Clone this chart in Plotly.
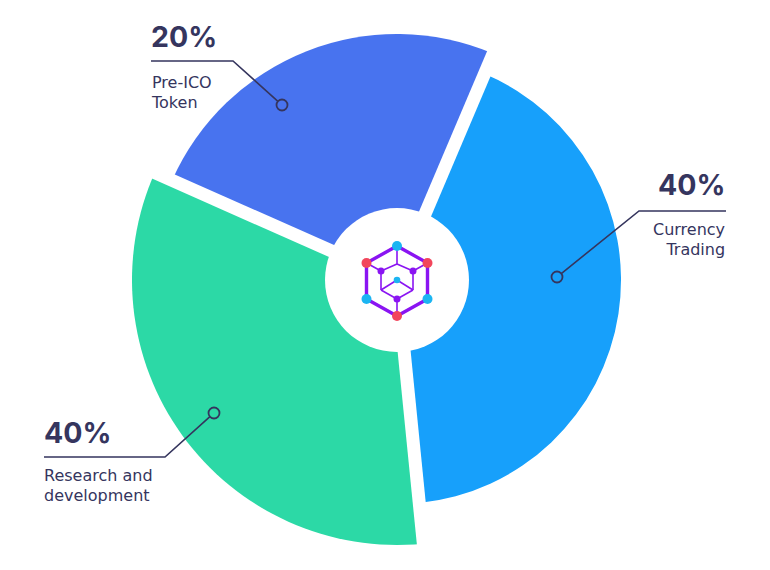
import plotly.graph_objects as go

# ---------------- data ----------------
labels = ["Pre-ICO Token", "Currency Trading", "Research and development"]
shares = [20, 40, 40]                      # percentages shown in the labels
slice_span = [89.1, 151.3, 119.6]          # angular extent of each slice (deg), as drawn
slice_reach = [246, 224, 265]              # outer radius of each slice (px), as drawn
start_angle = 293.9                        # first slice starts here (deg clockwise from top)
label_lines = [["Pre-ICO", "Token"], ["Currency", "Trading"], ["Research and", "development"]]

# ---------------- styling ----------------
W, H = 770, 570
CX, CY = 397, 280          # centre of the chart in page pixels
R_AX = 270                 # radius of the polar domain in px
HOLE = 72
GAP = 13
colors = ["#4873EF", "#17A0FB", "#2CD9A6"]
INK = "#35355E"
FONT = "Inter, Poppins, sans-serif"
BODY_FONT = "DejaVu Sans, sans-serif"

# slice centres and boundaries
centers, bounds = [], []
acc = start_angle
for s in slice_span:
    bounds.append(acc % 360)
    centers.append((acc + s / 2) % 360)
    acc += s

fig = go.Figure()

# invisible trace to create a pixel overlay axis
fig.add_trace(go.Scatter(x=[0], y=[0], mode="markers", marker=dict(opacity=0),
                         hoverinfo="skip", showlegend=False))

fig.add_trace(go.Barpolar(
    r=slice_reach,
    theta=centers,
    width=slice_span,
    marker=dict(color=colors, line=dict(width=0)),
    hoverinfo="skip",
    showlegend=False,
))

# white separators between slices
for b in bounds:
    fig.add_trace(go.Scatterpolar(
        r=[0, R_AX], theta=[b, b], mode="lines",
        line=dict(color="white", width=GAP),
        hoverinfo="skip", showlegend=False,
    ))

shapes = []
# central white hole
shapes.append(dict(type="circle", xref="x", yref="y", x0=CX - HOLE, x1=CX + HOLE,
                   y0=CY - HOLE, y1=CY + HOLE, fillcolor="white",
                   line=dict(width=0), layer="above"))

# ---------------- logo ----------------
LX, LY = 397, 281
PURPLE = "#8A14F2"
RED = "#F2465C"
CYAN = "#1BB5F2"
hexv = [(0, -35), (30.5, -18), (30.5, 18), (0, 35), (-30.5, 18), (-30.5, -18)]
inner_lines = [
    ((0, -35), (0, -17)),
    ((0, -17), (-16, -10)), ((0, -17), (16, -10)),
    ((-30.5, -18), (-16, -10)), ((30.5, -18), (16, -10)),
    ((-16, -10), (-16, 9)), ((16, -10), (16, 9)),
    ((0, -1), (-16, 9)), ((0, -1), (16, 9)),
    ((-16, 9), (0, 18)), ((16, 9), (0, 18)),
    ((0, 18), (0, 35)),
]
for (a, b) in inner_lines:
    shapes.append(dict(type="line", xref="x", yref="y", x0=LX + a[0], y0=LY + a[1],
                       x1=LX + b[0], y1=LY + b[1], line=dict(color=PURPLE, width=1.6),
                       layer="above"))
path = "M " + " L ".join(f"{LX + x} {LY + y}" for x, y in hexv) + " Z"
shapes.append(dict(type="path", xref="x", yref="y", path=path,
                   line=dict(color=PURPLE, width=3.4), layer="above"))
dots = [((0, -35), CYAN, 5), ((30.5, -18), RED, 5), ((-30.5, -18), RED, 5),
        ((30.5, 18), CYAN, 5), ((-30.5, 18), CYAN, 5), ((0, 35), RED, 5),
        ((-16, -10), PURPLE, 3.5), ((16, -10), PURPLE, 3.5),
        ((0, -1), CYAN, 3.3), ((0, 18), PURPLE, 3.5)]
for (p, c, r) in dots:
    shapes.append(dict(type="circle", xref="x", yref="y", x0=LX + p[0] - r, x1=LX + p[0] + r,
                       y0=LY + p[1] - r, y1=LY + p[1] + r, fillcolor=c,
                       line=dict(width=0), layer="above"))

# ---------------- leader lines ----------------
# (marker point, elbow, end of horizontal rule)
leaders = [((282, 105), (233, 61), (151, 61)),
           ((557, 277), (639, 211), (726, 211)),
           ((214, 413), (165, 457), (44, 457))]
MR = 5.5
for (p, e, t) in leaders:
    dx, dy = e[0] - p[0], e[1] - p[1]
    d = (dx * dx + dy * dy) ** 0.5
    sx, sy = p[0] + dx / d * MR, p[1] + dy / d * MR
    shapes.append(dict(type="path", xref="x", yref="y",
                       path=f"M {sx} {sy} L {e[0]} {e[1]} L {t[0]} {t[1]}",
                       line=dict(color=INK, width=1.6), layer="above"))
    shapes.append(dict(type="circle", xref="x", yref="y", x0=p[0] - MR, x1=p[0] + MR,
                       y0=p[1] - MR, y1=p[1] + MR, line=dict(color=INK, width=1.8),
                       fillcolor="rgba(0,0,0,0)", layer="above"))

# ---------------- texts ----------------
anns = []
text_pos = [  # x, anchor, y of percentage, y of the two-line caption
    (149, "left", 36.5, 92),
    (727, "right", 184.5, 239),
    (42, "left", 432.5, 485),
]
BODY = 16
for i, (x, anc, yp, yc) in enumerate(text_pos):
    anns.append(dict(x=x, y=yp, xref="x", yref="y", text=f"<b>{shares[i]}%</b>",
                     showarrow=False, xanchor=anc, yanchor="middle",
                     font=dict(family=FONT, size=28.5, color=INK)))
    cap = "<br>".join(f"<span style='font-size:{BODY}px'>{t}</span>" for t in label_lines[i])
    anns.append(dict(x=x, y=yc, xref="x", yref="y", text=cap,
                     showarrow=False, xanchor=anc, yanchor="middle", align=anc,
                     font=dict(family=BODY_FONT, size=15, color=INK)))

fig.update_layout(
    width=W, height=H, autosize=False,
    margin=dict(l=0, r=0, t=0, b=0, pad=0),
    paper_bgcolor="white", plot_bgcolor="rgba(0,0,0,0)",
    showlegend=False,
    xaxis=dict(range=[0, W], domain=[0, 1], visible=False, fixedrange=True),
    yaxis=dict(range=[H, 0], domain=[0, 1], visible=False, fixedrange=True),
    polar=dict(
        domain=dict(x=[(CX - R_AX) / W, (CX + R_AX) / W],
                    y=[(H - CY - R_AX) / H, (H - CY + R_AX) / H]),
        bgcolor="rgba(0,0,0,0)",
        radialaxis=dict(range=[0, R_AX], visible=False, showgrid=False),
        angularaxis=dict(rotation=90, direction="clockwise", visible=False, showgrid=False),
        bargap=0,
    ),
    shapes=shapes,
    annotations=anns,
)

fig.write_html("out.html")
